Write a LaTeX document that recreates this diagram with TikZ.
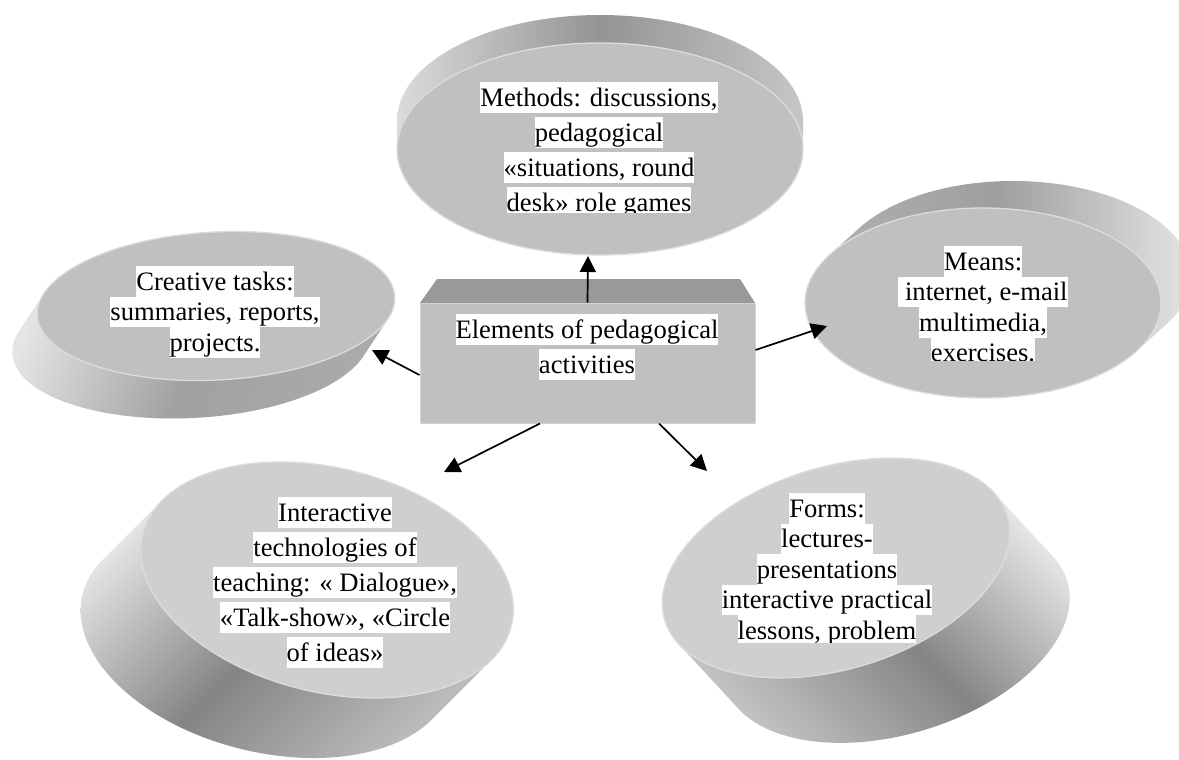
\documentclass[tikz,border=0pt]{standalone}
\usepackage{fontspec}
\setmainfont{Liberation Serif}
\usetikzlibrary{arrows.meta,calc}
\definecolor{faceA}{HTML}{C0C0C0}
\definecolor{faceB}{HTML}{CFCFCF}
\definecolor{rimcol}{HTML}{DCDCDC}
\definecolor{boxtop}{HTML}{999999}
\definecolor{boxrim}{HTML}{D2D2D2}
\newcommand\wbA[1]{{\setlength{\fboxsep}{0pt}\colorbox{white}{\rule[-7pt]{0pt}{31pt}#1}}}
\newcommand\wbB[1]{{\setlength{\fboxsep}{0pt}\colorbox{white}{\rule[-6.5pt]{0pt}{30.5pt}#1}}}
\begin{document}
\begin{tikzpicture}[x=1pt,y=-1pt,
  arr/.style={line width=1.7pt,-{Triangle[length=16pt,width=16pt]}},
  txt/.style={inner sep=0pt,align=center,anchor=north,font=\fontsize{26.6}{35}\selectfont},
  txtS/.style={inner sep=0pt,align=center,anchor=north,font=\fontsize{26.6}{30.5}\selectfont},
  face/.style={draw=rimcol,line width=1.3pt}]
\fill[white] (0,0) rectangle (1179,760);
\useasboundingbox (0,0) rectangle (1179,760);

% Methods cylinder
\begin{scope}
\clip \foreach \k in {0,...,30}{ (600,{149-\k*28/30}) ellipse [x radius=203, y radius=106] };
\shade[top color=black!14,bottom color=black!22,middle color=black!42,shading angle=90] (395,15) rectangle (805,260);
\end{scope}
\fill[faceA,face] (600,149) ellipse [x radius=203, y radius=106];

% Creative cylinder
\begin{scope}
\clip \foreach \k in {0,...,30}{ ({216-\k*25/30},{306+\k*38/30}) ellipse [x radius=179, y radius=74, rotate=3] };
\shade[top color=black!10,bottom color=black!33,middle color=black!37,shading angle=70] (10,225) rectangle (400,425);
\end{scope}
\fill[faceA,face] (216,306) ellipse [x radius=179, y radius=74, rotate=3];

% Means cylinder
\begin{scope}
\clip \foreach \k in {0,...,30}{ ({983+\k*30/30},{303-\k*27/30}) ellipse [x radius=178, y radius=95] };
\shade[top color=black!10,bottom color=black!30,middle color=black!38,shading angle=-90] (800,175) rectangle (1195,400);
\end{scope}
\fill[faceA,face] (983,303) ellipse [x radius=178, y radius=95];

% Interactive cylinder
\begin{scope}
\clip \foreach \k in {0,...,30}{ ({327-\k*60/30},{580+\k*60/30}) ellipse [x radius=190, y radius=112, rotate=-14] };
\shade[top color=black!8,bottom color=black!25,middle color=black!48,shading angle=45] (80,455) rectangle (515,760);
\end{scope}
\fill[faceB,face] (327,580) ellipse [x radius=190, y radius=112, rotate=-14];

% Forms cylinder
\begin{scope}
\clip \foreach \k in {0,...,30}{ ({836+\k*60/30},{568+\k*65/30}) ellipse [x radius=179, y radius=101, rotate=17] };
\shade[top color=black!6,bottom color=black!22,middle color=black!48,shading angle=-45] (655,450) rectangle (1080,750);
\end{scope}
\fill[faceB,face] (836,568) ellipse [x radius=179, y radius=101, rotate=17];

% central box
\fill[boxtop] (420,303) -- (437,279) -- (740,279) -- (755,303) -- cycle;
\node[draw=boxrim,fill=faceA,line width=1pt,inner sep=0pt,minimum width=335pt,minimum height=120pt] (box) at (587.5,363) {};

% arrows
\coordinate (eM) at (588,256);
\coordinate (eC) at (372,350);
\coordinate (eN) at (827,326);
\coordinate (eI) at (444,472);
\coordinate (eF) at (707,471);
\draw[arr] (box.north) -- (eM);
\draw[arr] ($(box.west)+(0,12)$) -- (eC);
\draw[arr] ($(box.east)+(0,-13)$) -- (eN);
\draw[arr] ($(box.south)+(-47.5,0)$) -- (eI);
\draw[arr] ($(box.south)+(71.5,0)$) -- (eF);

% texts
\node[txt] (boxtxt) at (587,314) {\wbA{Elements of pedagogical}\\\wbA{activities}};
\begin{scope}
\clip (0,0) rectangle (1179,212);
\node[txt] (tM) at (599,82) {\wbA{Methods: discussions,}\\\wbA{pedagogical}\\\wbA{«situations, round}\\\wbA{desk» role games}};
\end{scope}
\node[txtS] (tC) at (215,266) {\wbB{Creative tasks:}\\\wbB{summaries, reports,}\\\wbB{projects.}};
\begin{scope}
\clip (0,0) rectangle (1179,360);
\node[txtS] (tN) at (983,246) {\wbB{Means:}\\\wbB{\ internet, e-mail}\\\wbB{multimedia,}\\\wbB{exercises.}};
\end{scope}
\node[txt] (tI) at (335,497) {\wbA{Interactive}\\\wbA{technologies of}\\\wbA{teaching: « Dialogue»,}\\\wbA{«Talk-show», «Circle}\\\wbA{of ideas»}};
\begin{scope}
\clip (0,0) rectangle (1179,642);
\node[txtS] (tF) at (827,493) {\wbB{Forms:}\\\wbB{lectures-}\\\wbB{presentations}\\\wbB{interactive practical}\\\wbB{lessons, problem}};
\end{scope}
\end{tikzpicture}
\end{document}
